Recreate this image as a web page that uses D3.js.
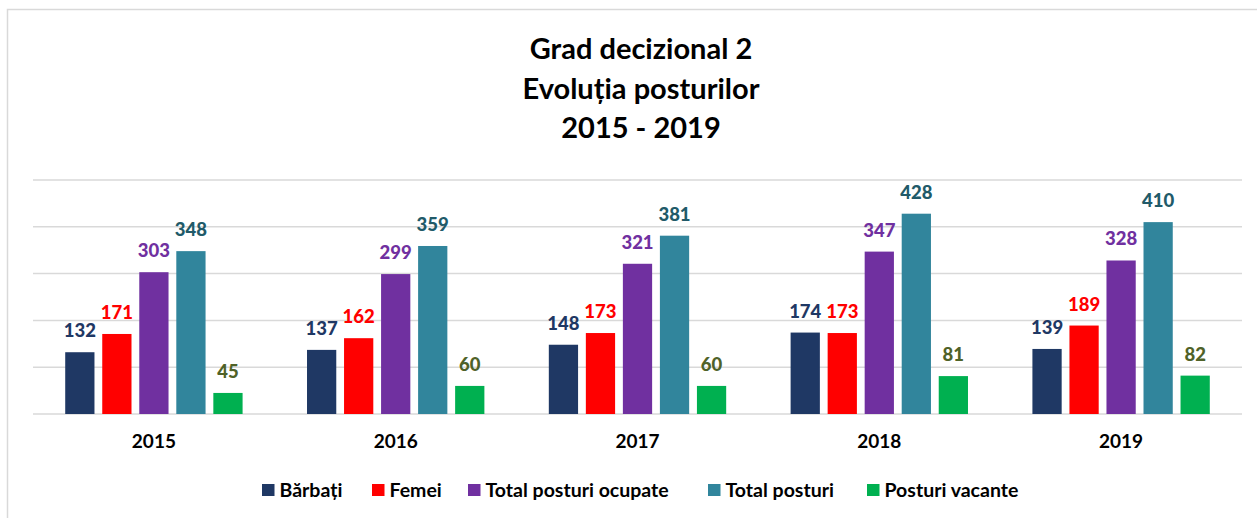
<!DOCTYPE html>
<html>
<head>
<meta charset="utf-8">
<script src="https://cdn.jsdelivr.net/npm/d3@7"></script>
<style>
  body { margin: 0; background: #fff; }
  svg { display: block; font-family: Lato, "Open Sans", sans-serif; }
</style>
</head>
<body>
<div id="chart-container"></div>
<script>
// Data
const years = ["2015", "2016", "2017", "2018", "2019"];
const seriesNames = ["Bărbați", "Femei", "Total posturi ocupate", "Total posturi", "Posturi vacante"];
const barbati = [132, 137, 148, 174, 139];
const femei = [171, 162, 173, 173, 189];
const totalOcupate = [303, 299, 321, 347, 328];
const totalPosturi = [348, 359, 381, 428, 410];
const vacante = [45, 60, 60, 81, 82];
const gridTicks = [0, 100, 200, 300, 400, 500];
const titleLines = ["Grad decizional 2", "Evoluția posturilor", "2015 - 2019"];

const barColors = ["#1F3864", "#FF0000", "#7030A0", "#31859C", "#00B050"];
const labelColors = ["#1F3864", "#FF0000", "#7030A0", "#215A69", "#4F6228"];

// build table for drawing
const values = [barbati, femei, totalOcupate, totalPosturi, vacante];
const data = years.map((y, i) => ({
    year: y,
    vals: seriesNames.map((s, k) => ({ key: s, value: values[k][i], k: k }))
}));

const W = 1257, H = 518;
const plot = { left: 33, right: 1242, top: 180, bottom: 414 };

const svg = d3.select("#chart-container")
    .append("svg")
    .attr("width", W)
    .attr("height", H);

// outer frame
svg.append("rect")
    .attr("x", 7.5).attr("y", 9.5)
    .attr("width", 1262).attr("height", 520)
    .attr("fill", "none")
    .attr("stroke", "#d9d9d9")
    .attr("stroke-width", 1.5);

// title
svg.append("g")
    .selectAll("text")
    .data(titleLines)
    .enter().append("text")
    .attr("x", 641)
    .attr("y", (d, i) => 59 + i * 39.5)
    .attr("text-anchor", "middle")
    .attr("font-size", 29)
    .attr("font-weight", "bold")
    .attr("fill", "#000")
    .text(d => d);

// scales
const x0 = d3.scaleBand()
    .domain(years)
    .range([plot.left, plot.right]);

const x1 = d3.scaleBand()
    .domain(seriesNames)
    .range([0, x0.bandwidth()])
    .paddingInner(0.21)
    .paddingOuter(0.87);

const y = d3.scaleLinear()
    .domain([0, 500])
    .range([plot.bottom, plot.top]);

// gridlines
svg.append("g")
    .attr("class", "grid")
    .selectAll("line")
    .data(gridTicks)
    .enter().append("line")
    .attr("x1", plot.left)
    .attr("x2", plot.right)
    .attr("y1", d => y(d))
    .attr("y2", d => y(d))
    .attr("stroke", "#d9d9d9")
    .attr("stroke-width", 1.5);

// bars
const groups = svg.selectAll(".yearGroup")
    .data(data)
    .enter().append("g")
    .attr("class", "yearGroup")
    .attr("transform", d => "translate(" + x0(d.year) + ",0)");

groups.selectAll("rect")
    .data(d => d.vals)
    .enter().append("rect")
    .attr("x", d => x1(d.key))
    .attr("y", d => y(d.value))
    .attr("width", x1.bandwidth())
    .attr("height", d => y(0) - y(d.value))
    .attr("fill", d => barColors[d.k]);

// value labels
groups.selectAll("text.val")
    .data(d => d.vals)
    .enter().append("text")
    .attr("class", "val")
    .attr("x", d => x1(d.key) + x1.bandwidth() / 2)
    .attr("y", d => y(d.value) - 15)
    .attr("text-anchor", "middle")
    .attr("font-size", 18.5)
    .attr("font-weight", 900)
    .attr("fill", d => labelColors[d.k])
    .text(d => d.value);

// x axis labels
const xAxis = svg.append("g")
    .attr("class", "x-axis")
    .attr("transform", "translate(0," + plot.bottom + ")")
    .call(d3.axisBottom(x0).tickSize(0).tickPadding(0));
xAxis.select(".domain").remove();
xAxis.selectAll("text")
    .attr("y", 34)
    .attr("dy", 0)
    .attr("font-family", "Lato, sans-serif")
    .attr("font-size", 19)
    .attr("font-weight", "bold")
    .attr("fill", "#000");

// legend
const legendX = [262, 372, 468, 708, 867];
const legend = svg.selectAll(".legend")
    .data(seriesNames)
    .enter().append("g")
    .attr("class", "legend")
    .attr("transform", (d, i) => "translate(" + legendX[i] + ",484)");

legend.append("rect")
    .attr("width", 12.5)
    .attr("height", 12)
    .attr("fill", (d, i) => barColors[i]);

legend.append("text")
    .attr("x", 17.5)
    .attr("y", 12.7)
    .attr("font-size", 19.5)
    .attr("font-weight", "bold")
    .attr("fill", "#000")
    .text(d => d);
</script>
</body>
</html>
